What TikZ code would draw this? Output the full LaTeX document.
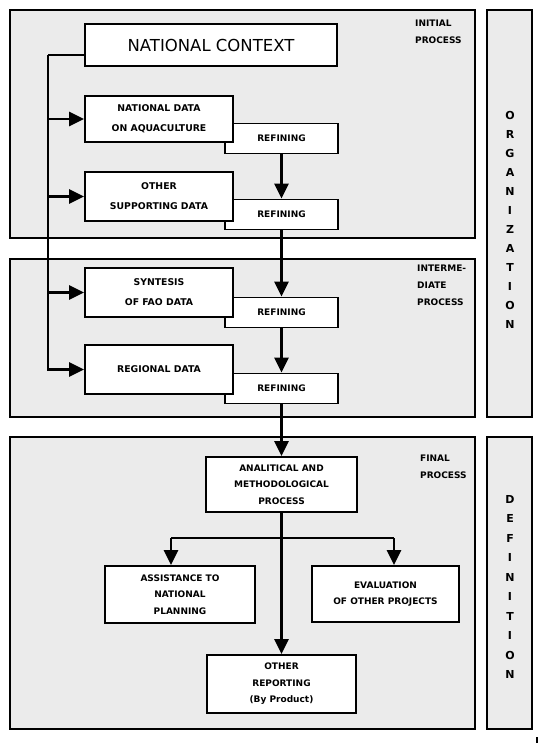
\documentclass[tikz,border=0pt]{standalone}
\usepackage{fontspec}
\setmainfont{DejaVu Sans}
\usetikzlibrary{arrows.meta}

\begin{document}
\begin{tikzpicture}[x = 1pt, y = -1pt,
    panel/.style = {draw, line width = 1.6pt, fill = black!8},
    framed/.style = {draw, line width = 1.8pt, fill = white, align = center, inner sep = 0pt},
    refbox/.style = {framed, minimum width = 113pt, minimum height = 30pt,
                     font = \fontsize{9}{11}\selectfont\bfseries},
    databox/.style = {framed, minimum width = 148pt, minimum height = 49pt,
                      font = \fontsize{9.3}{20}\selectfont\bfseries},
    endbox/.style = {framed, minimum height = 57pt, font = \fontsize{9}{16.5}\selectfont\bfseries},
    stage/.style = {align = left, anchor = west, inner sep = 0pt,
                    font = \fontsize{9}{17}\selectfont\bfseries},
    letter/.style = {inner sep = 0pt, font = \fontsize{11}{12}\selectfont\bfseries},
    wire/.style = {line width = 2.6pt},
    flow/.style = {wire, -{Triangle[length = 15pt, width = 14pt]}}]

  \fill [white] (0,0) rectangle (540,743);
  \useasboundingbox (0,0) rectangle (540,743);

  % stage panels and side strips
  \draw [panel] (10,10) rectangle (475,238);
  \draw [panel] (10,259) rectangle (475,417);
  \draw [panel] (10,437) rectangle (475,729);
  \draw [panel] (487,10) rectangle (532,417);
  \draw [panel] (487,437) rectangle (532,729);
  \draw [line width = 1.5pt] (537,737) -- (537,743);

  \node [stage] (ini) at (415,31.5) {INITIAL\\PROCESS};
  \node [stage] (mid) at (417,285.5) {INTERME-\\DIATE\\PROCESS};
  \node [stage] (fin) at (420,467) {FINAL\\PROCESS};

  \foreach \ch [count = \i] in {O,R,G,A,N,I,Z,A,T,I,O,N}
    \node [letter] (org\i) at (510,{96.5 + 19*\i}) {\ch};
  \foreach \ch [count = \i] in {D,E,F,I,N,I,T,I,O,N}
    \node [letter] (def\i) at (510,{479.45 + 19.55*\i}) {\ch};

  % refining steps sit behind the data boxes
  \node [refbox] (refA) at (281.5,138.5) {REFINING};
  \node [refbox] (refB) at (281.5,214.5) {REFINING};
  \node [refbox] (refC) at (281.5,312.5) {REFINING};
  \node [refbox] (refD) at (281.5,388.5) {REFINING};

  \node [framed, minimum width = 252pt, minimum height = 42pt,
         font = \fontsize{16.5}{18}\selectfont] (nc) at (211,45) {NATIONAL CONTEXT};
  \node [databox, minimum height = 46pt] (natdata) at (159,119) {NATIONAL DATA\\ON AQUACULTURE};
  \node [databox] (other) at (159,196.5) {OTHER\\SUPPORTING DATA};
  \node [databox] (syn) at (159,292.5) {SYNTESIS\\OF FAO DATA};
  \node [databox] (reg) at (159,369.5) {REGIONAL DATA};

  \node [endbox, minimum width = 151pt, minimum height = 55pt] (ana) at (281.5,484.5)
        {ANALITICAL AND\\METHODOLOGICAL\\PROCESS};
  \node [endbox, minimum width = 150pt] (assist) at (180,594.5)
        {ASSISTANCE TO\\NATIONAL\\PLANNING};
  \node [endbox, minimum width = 147pt, minimum height = 56pt] (eval) at (385.5,594)
        {EVALUATION\\OF OTHER PROJECTS};
  \node [endbox, minimum width = 149pt, minimum height = 58pt] (rep) at (281.5,684)
        {OTHER\\REPORTING\\(By Product)};

  % national context feeds every data box
  \coordinate (lt) at (48,55);
  \draw [wire] (nc.west |- lt) -- (lt);
  \foreach \dst in {natdata, other, syn, reg}
    \draw [flow] (lt) |- (\dst.west);

  % refining chain
  \draw [flow] (refA) -- (refB);
  \draw [flow] (refB) -- (refC);
  \draw [flow] (refC) -- (refD);
  \draw [flow] (refD) -- (ana);
  \draw [flow] (ana) -- (rep);

  \coordinate (fl) at (171,538);
  \coordinate (fr) at (394,538);
  \draw [wire] (fl) -- (fr);
  \draw [flow] (fl) -- (fl |- assist.north);
  \draw [flow] (fr) -- (fr |- eval.north);
\end{tikzpicture}
\end{document}
